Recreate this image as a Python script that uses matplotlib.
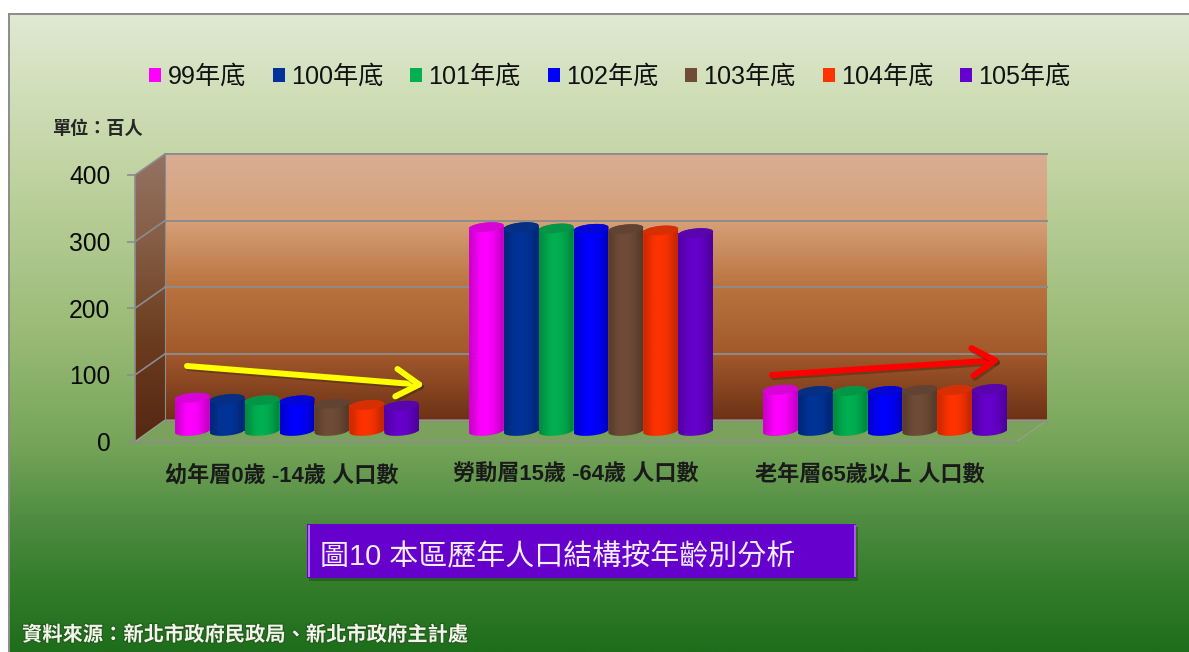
import numpy as np
import matplotlib
matplotlib.use("Agg")
import matplotlib.pyplot as plt
from matplotlib.colors import LinearSegmentedColormap, to_rgb
from matplotlib.patches import Polygon, Rectangle
from matplotlib.transforms import Affine2D
import matplotlib.patheffects as pe

plt.rcParams['font.family'] = ['Liberation Sans', 'Noto Sans CJK TC']

categories = ['幼年層0歲 -14歲 人口數', '勞動層15歲 -64歲 人口數', '老年層65歲以上 人口數']
series_names = ['99年底', '100年底', '101年底', '102年底', '103年底', '104年底', '105年底']
series_colors = ['#FF00FF', '#003399', '#00B050', '#0000FF', '#704C38', '#FF3300', '#6600CC']
y99 = [50, 306, 62]
y100 = [48, 306, 60]
y101 = [46, 304, 60]
y102 = [46, 303.5, 60]
y103 = [41, 303, 61.5]
y104 = [39, 301, 61.5]
y105 = [38, 297, 63]
series_values = [y99, y100, y101, y102, y103, y104, y105]
y_ticks = [0, 100, 200, 300, 400]
title_text = '圖10 本區歷年人口結構按年齡別分析'
unit_text = '單位：百人'
source_text = '資料來源：新北市政府民政局、新北市政府主計處'

W, H = 1189, 652
fig = plt.figure(figsize=(W / 100, H / 100), dpi=100, facecolor='white')
px = Affine2D().scale(1, -1).translate(0, H)

# ---- page background
bg = fig.add_axes([0, 0, 1, 1], zorder=0)
bg.set_xlim(0, W); bg.set_ylim(H, 0); bg.axis('off')
stops = [(0.0, '#E0E9D2'), (0.22, '#C4D6A6'), (0.5, '#9ABB76'), (0.68, '#74A458'),
         (0.80, '#4D8B40'), (0.90, '#327C2A'), (1.0, '#1E6E1C')]
cm = LinearSegmentedColormap.from_list('page', stops)
bg.imshow(np.linspace(0, 1, 400)[:, None], cmap=cm, extent=[8.5, W, H, 13.5], aspect='auto')
bg.plot([8.5, 8.5], [13.5, H], color='#8C8C8C', lw=1.4)
bg.plot([8.5, W], [13.5, 13.5], color='#8C8C8C', lw=1.4)
bg.set_xlim(0, W); bg.set_ylim(H, 0)

# ---- chart axes: the front plane of the 3-D box
ax = fig.add_axes([135 / W, (H - 441.5) / H, 882 / W, 266.5 / H], zorder=1)
ax.patch.set_visible(False)
ax.set_xlim(-0.5, 2.5)
ax.set_ylim(0, 400)
ax.set_yticks(y_ticks)
ax.set_xticks(range(3))
ax.set_xticklabels(categories, fontsize=15.9, fontweight='bold', color='#1A1A1A', va='baseline')
ax.tick_params(axis='y', length=5.8, width=1.2, color='#8C8C8C', pad=12, labelsize=17.7, labelcolor='#0A0A0A')
ax.tick_params(axis='x', length=0, pad=28.5)
for s in ['top', 'right']:
    ax.spines[s].set_visible(False)
for s in ['left', 'bottom']:
    ax.spines[s].set_color('#8C8C8C')
    ax.spines[s].set_linewidth(1.2)
    ax.spines[s].set_zorder(1.5)

DX, DY = 30, 21
mid = ax.transData + Affine2D().translate(DX / 2, DY / 2)
identity = Affine2D()
PXY = 266.5 / 400
PXX = 882 / 3


def wall(colors, poly):
    cmap = LinearSegmentedColormap.from_list('w', colors)
    ext = [min(p[0] for p in poly), max(p[0] for p in poly),
           max(p[1] for p in poly), min(p[1] for p in poly)]
    im = ax.imshow(np.linspace(0, 1, 300)[:, None], cmap=cmap, extent=ext, aspect='auto',
                   transform=px, zorder=0.2)
    im.set_clip_box(fig.bbox)
    im.set_clip_path(Polygon(poly, closed=True, transform=px))


wall([(0, '#D9AD94'), (0.25, '#D6A078'), (0.5, '#B9733F'), (0.75, '#A2592C'), (1, '#6E3216')],
     [(165, 154), (1047, 154), (1047, 420), (165, 420)])
wall([(0, '#957264'), (0.3, '#855E45'), (0.65, '#6B3C1F'), (1, '#562712')],
     [(135, 175), (165, 154), (165, 420), (135, 441.5)])
ax.add_patch(Polygon([(135, 441.5), (165, 420), (1047, 420), (1017, 441.5)], closed=True,
                     transform=px, facecolor='#7AA25C', edgecolor='#9A9F90', lw=0.8, zorder=0.3, clip_on=False))

# gridlines on the back and left walls
for v in y_ticks:
    fx, fy = ax.transData.transform((-0.5, v))
    ex, ey = ax.transData.transform((2.5, v))
    if v > 0:
        ax.plot([fx, fx + DX], [fy, fy + DY], transform=identity, color='#8C8C8C', lw=1.2, zorder=0.5, clip_on=False)
    ax.plot([fx + DX, ex + DX], [fy + DY, ey + DY], transform=identity, color='#8C8C8C', lw=1.4 if v else 0.8,
            zorder=0.5, clip_on=False)
ax.plot([165, 165], [154, 420], transform=px, color='#8C8C8C', lw=0.8, zorder=0.5, clip_on=False)

# ---- cylinders
bar_w = 34.9 / PXX
ERX = 34.9 / 2 / PXX
ERY = 4.6 / PXY
TILT = 1.6 / PXY
t = np.linspace(0, 2 * np.pi, 121)
shade = np.array([0.80, 0.92, 1.0, 1.0, 0.97, 0.90, 0.76])[None, :]

handles = []
for j, (name, col, vals) in enumerate(zip(series_names, series_colors, series_values)):
    xs = np.arange(3) + (j - 3) * bar_w
    bars = ax.bar(xs, vals, width=bar_w, color=col, label=name, transform=mid, zorder=2 + j, clip_on=False)
    handles.append(bars)
    base = np.array(to_rgb(col))
    dark = tuple(base * 0.82 + np.array([0.02, 0.02, 0.02]))
    for x, v, rect in zip(xs, vals, bars):
        ang = np.linspace(0, np.pi, 60)
        top = [(x + ERX * np.cos(a), v + ERY * np.sin(a) + TILT * np.cos(a)) for a in ang]
        bot = [(x + ERX * np.cos(a), ERY * np.sin(a) + TILT * np.cos(a)) for a in ang + np.pi]
        body = Polygon(top + bot, closed=True, transform=mid)
        rect.set_transform(mid)
        rect.set_clip_path(body)
        rgb = (np.clip(shade[..., None] * base[None, None, :], 0, 1))
        im = ax.imshow(rgb, extent=[x - bar_w / 2, x + bar_w / 2, -ERY - TILT, v + ERY + TILT], aspect='auto',
                       transform=mid, zorder=2 + j, interpolation='bicubic')
        im.set_clip_box(fig.bbox)
        im.set_clip_path(Polygon(top + bot, closed=True, transform=mid))
        ell = [(x + ERX * np.cos(a), v + ERY * np.sin(a) + TILT * np.cos(a)) for a in t]
        ax.add_patch(Polygon(ell, closed=True, transform=mid, facecolor=dark, edgecolor='none',
                             zorder=2 + j + 0.1, clip_on=False))

ax.set_xlim(-0.5, 2.5)
ax.set_ylim(0, 400)

# ---- arrows
for (a, b), c in [(((187, 366), (425, 385)), '#FFFF00'), (((772, 375), (1001, 360)), '#FF0000')]:
    ar = ax.annotate('', xy=b, xytext=a, xycoords=px, textcoords=px, zorder=20, annotation_clip=False,
                     arrowprops=dict(arrowstyle='->,head_length=0.55,head_width=0.33', color=c, lw=4.3,
                                     shrinkA=0, shrinkB=0, mutation_scale=30))
    ar.arrow_patch.set_path_effects([pe.SimpleLineShadow(offset=(1.2, -1.5), shadow_color='#3A2A10', alpha=0.45),
                                     pe.Normal()])

# ---- legend
leg = ax.legend(handles=[h for h in handles], loc='center left', bbox_to_anchor=(149, 76.5),
                bbox_transform=px, ncols=7, frameon=False, fontsize=18.1, borderaxespad=0, borderpad=0,
                handlelength=0.48, handleheight=0.48, handletextpad=0.26, columnspacing=1.06,
                labelcolor='#111111')
leg.set_zorder(25)

# ---- free texts
ax.text(52, 129, unit_text, transform=px, fontsize=13.1, fontweight='bold', color='#262626', va='center', ha='left',
        clip_on=False)
ax.text(22, 635, source_text, transform=px, fontsize=14.6, fontweight='bold', color='#F4F4EC', va='center', ha='left',
        clip_on=False, path_effects=[pe.withStroke(linewidth=1.5, foreground='#1F5A1A')])

# ---- title box
ax.add_patch(Rectangle((309, 527), 549, 54, transform=px, facecolor='#173F14', alpha=0.45, edgecolor='none',
                       zorder=21, clip_on=False))
ax.add_patch(Rectangle((307, 524), 549, 54, transform=px, facecolor='#6600CC', edgecolor='none',
                       zorder=22, clip_on=False))
ax.add_patch(Rectangle((307.5, 525), 2, 52, transform=px, facecolor='#B46CF0', edgecolor='none', zorder=23, clip_on=False))
ax.add_patch(Rectangle((853.5, 525), 2, 52, transform=px, facecolor='#A85CE8', edgecolor='none', zorder=23, clip_on=False))
ax.text(320, 557, title_text, transform=px, fontsize=20.9, color='#F4EEFC', va='center', ha='left', zorder=24,
        clip_on=False)

fig.savefig('out.png', dpi=100, facecolor='white')
